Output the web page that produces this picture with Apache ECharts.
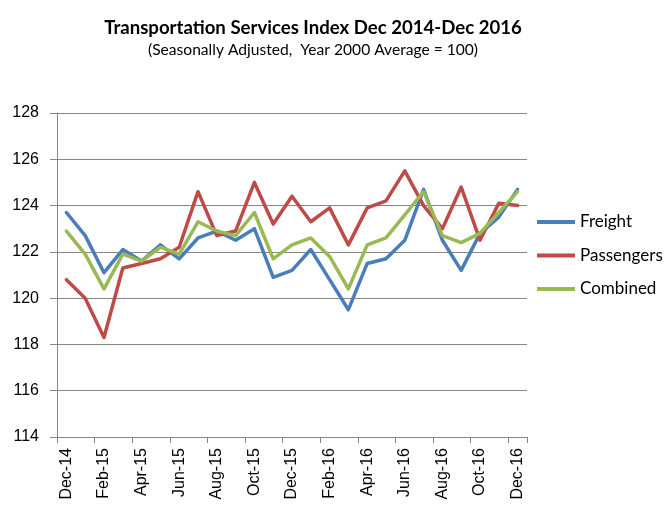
<!DOCTYPE html>
<html><head><meta charset="utf-8">
<script src="https://cdn.jsdelivr.net/npm/echarts@6/dist/echarts.min.js"></script>
<style>html,body{margin:0;padding:0;background:#fff}#c{width:671px;height:514px}</style>
</head><body><div id="c"></div>
<script>
var months = ["Dec-14","Jan-15","Feb-15","Mar-15","Apr-15","May-15","Jun-15","Jul-15","Aug-15","Sep-15","Oct-15","Nov-15","Dec-15","Jan-16","Feb-16","Mar-16","Apr-16","May-16","Jun-16","Jul-16","Aug-16","Sep-16","Oct-16","Nov-16","Dec-16"];
var freight = [123.7,122.7,121.1,122.1,121.6,122.3,121.7,122.6,122.9,122.5,123.0,120.9,121.2,122.1,120.8,119.5,121.5,121.7,122.5,124.7,122.5,121.2,122.8,123.5,124.7];
var passengers = [120.8,120.0,118.3,121.3,121.5,121.7,122.2,124.6,122.7,122.9,125.0,123.2,124.4,123.3,123.9,122.3,123.9,124.2,125.5,124.0,123.0,124.8,122.5,124.1,124.0];
var combined = [122.9,121.9,120.4,121.9,121.6,122.2,121.9,123.3,122.9,122.7,123.7,121.7,122.3,122.6,121.8,120.4,122.3,122.6,123.6,124.6,122.7,122.4,122.8,123.7,124.6];
var yTicks = {min:114, max:128, step:2};
var titleText = "Transportation Services Index Dec 2014-Dec 2016";
var subText = "(Seasonally Adjusted,  Year 2000 Average = 100)";

var chart = echarts.init(document.getElementById('c'), null, {renderer:'canvas'});
function mk(name, data, color){
  return {name:name, type:'line', data:data, symbol:'none', smooth:false,
    lineStyle:{width:3.5, color:color, cap:'round', join:'round'}, itemStyle:{color:color}};
}
chart.setOption({
  animation:false,
  backgroundColor:'#fff',
  title:{text:titleText, subtext:subText, left:308, textAlign:'center', top:13, itemGap:5,
    textStyle:{fontFamily:'Lato', fontWeight:'bold', fontSize:18.6, color:'#000'},
    subtextStyle:{fontFamily:'Lato', fontSize:15.6, color:'#000'}},
  legend:{orient:'vertical', left:532, top:207, itemGap:13.5, itemWidth:38, itemHeight:4, icon:'rect',
    textStyle:{fontFamily:'Lato', fontSize:17, color:'#000', lineHeight:20},
    data:['Freight','Passengers','Combined']},
  grid:{left:57, right:144, top:113, bottom:77, containLabel:false},
  xAxis:{type:'category', data:months, boundaryGap:true,
    axisLine:{lineStyle:{color:'#868686', width:1}},
    axisTick:{show:true, interval:1, length:6, lineStyle:{color:'#868686'}},
    axisLabel:{interval:1, rotate:90, fontFamily:'Liberation Sans', fontSize:16, color:'#000', margin:11}},
  yAxis:{type:'value', min:yTicks.min, max:yTicks.max, interval:yTicks.step,
    axisLine:{show:true, lineStyle:{color:'#868686', width:1}},
    axisTick:{show:true, length:7, lineStyle:{color:'#868686'}},
    splitLine:{lineStyle:{color:'#868686', width:1}},
    axisLabel:{fontFamily:'Liberation Sans', fontSize:16, color:'#000', margin:18}},
  series:[mk('Freight', freight, '#4A7EBB'), mk('Passengers', passengers, '#BE4B48'), mk('Combined', combined, '#98B954')]
});
</script></body></html>
